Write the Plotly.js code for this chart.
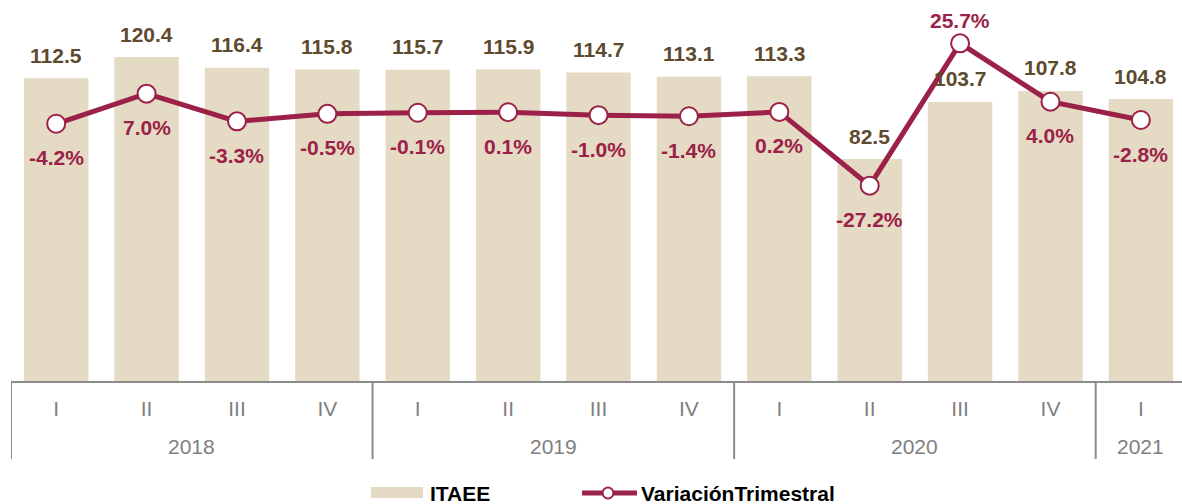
<!DOCTYPE html>
<html><head><meta charset="utf-8">
<script src="https://cdn.plot.ly/plotly-3.0.1.min.js"></script>
<style>html,body{margin:0;padding:0;background:#fff}#chart{width:1182px;height:504px}</style>
</head><body><div id="chart"></div>
<script>
const years = ["2018","2018","2018","2018","2019","2019","2019","2019","2020","2020","2020","2020","2021"];
const quarters = ["I","II","III","IV","I","II","III","IV","I","II","III","IV","I"];
const itaee = [112.5,120.4,116.4,115.8,115.7,115.9,114.7,113.1,113.3,82.5,103.7,107.8,104.8];
const variacion = [-4.2,7.0,-3.3,-0.5,-0.1,0.1,-1.0,-1.4,0.2,-27.2,25.7,4.0,-2.8];
const seriesNames = ["ITAEE","VariaciónTrimestral"];

const FONT = "Arial, 'Liberation Sans', sans-serif";
const BAR_COLOR = "#E5DAC4";
const LINE_COLOR = "#9B2148";
const BAR_TEXT = "#5E4A2E";
const GRAY = "#8C8C8C";
const TICK_GRAY = "#7F7F7F";

// plot geometry in pixels (for legend / label placement)
const ML = 11, MT = 0, W = 1171, H = 381;
const px = x => (x - ML) / W;
const py = y => (MT + H - y) / H;

const idx = quarters.map((_, i) => i);

const bars = {
  type: "bar", x: idx, y: itaee, name: seriesNames[0],
  marker: {color: BAR_COLOR}, width: 0.713, hoverinfo: "y", showlegend: false
};
const line = {
  type: "scatter", mode: "lines+markers", x: idx, y: variacion, yaxis: "y2",
  name: seriesNames[1], line: {color: LINE_COLOR, width: 5},
  marker: {size: 18, color: "#ffffff", line: {color: LINE_COLOR, width: 2}},
  cliponaxis: false, showlegend: false
};

const annotations = [];
const shapes = [];
const maxIdx = variacion.indexOf(Math.max(...variacion));
itaee.forEach((v, i) => annotations.push({
  x: i, y: v, xref: "x", yref: "y", text: v.toFixed(1), showarrow: false,
  yanchor: "middle", yshift: 23, font: {family: FONT, size: 21, color: BAR_TEXT, weight: "bold"}
}));
variacion.forEach((v, i) => annotations.push({
  x: i, y: v, xref: "x", yref: "y2", text: v.toFixed(1) + "%", showarrow: false,
  yanchor: "middle", yshift: i === maxIdx ? 23 : -34,
  font: {family: FONT, size: 21, color: LINE_COLOR, weight: "bold"}
}));

// year groups: labels and dividers
const groups = [];
years.forEach((y, i) => {
  if (!groups.length || groups[groups.length - 1].year !== y) groups.push({year: y, start: i, end: i});
  else groups[groups.length - 1].end = i;
});
groups.forEach(g => {
  annotations.push({x: (g.start + g.end) / 2, xref: "x", y: py(446), yref: "paper", yanchor: "middle",
    text: g.year, showarrow: false, font: {family: FONT, size: 21, color: TICK_GRAY}});
  shapes.push({type: "line", xref: "x", yref: "paper", x0: g.start - 0.5, x1: g.start - 0.5,
    y0: py(381), y1: py(459), line: {color: GRAY, width: 2}});
});
const last = groups[groups.length - 1];
shapes.push({type: "line", xref: "x", yref: "paper", x0: last.end + 0.5, x1: last.end + 0.5,
  y0: py(381), y1: py(459), line: {color: GRAY, width: 2}});

// legend
annotations.push({xref: "paper", yref: "paper", x: px(428), y: py(493), xanchor: "left", yanchor: "middle",
  text: "<b>" + seriesNames[0] + "</b>", showarrow: false, font: {family: FONT, size: 21, color: "#000"}});
annotations.push({xref: "paper", yref: "paper", x: px(639), y: py(493), xanchor: "left", yanchor: "middle",
  text: "<b>" + seriesNames[1] + "</b>", showarrow: false, font: {family: FONT, size: 21, color: "#000"}});
shapes.push(
  {type: "rect", xref: "paper", yref: "paper", x0: px(371), x1: px(423), y0: py(498), y1: py(487),
   fillcolor: BAR_COLOR, line: {width: 0}},
  {type: "line", xref: "paper", yref: "paper", x0: px(582), x1: px(637), y0: py(493), y1: py(493),
   line: {color: LINE_COLOR, width: 5}},
  {type: "circle", xref: "paper", yref: "paper", x0: px(602.5), x1: px(613.5), y0: py(498.5), y1: py(487.5),
   fillcolor: "#ffffff", line: {color: LINE_COLOR, width: 2}}
);

const layout = {
  width: 1182, height: 504,
  margin: {l: ML, r: 0, t: MT, b: 504 - H - MT, pad: 0},
  paper_bgcolor: "#fff", plot_bgcolor: "#fff",
  font: {family: FONT},
  showlegend: false,
  xaxis: {
    range: [-0.5, 12.455], showline: true, linecolor: GRAY, linewidth: 2,
    showgrid: false, zeroline: false, ticks: "outside", ticklen: 8, tickcolor: "rgba(0,0,0,0)",
    tickvals: idx, ticktext: quarters,
    tickfont: {family: FONT, size: 21, color: TICK_GRAY}
  },
  yaxis: {range: [0, 141.6], visible: false},
  yaxis2: {range: [-99.8, 41.8], overlaying: "y", visible: false},
  annotations: annotations,
  shapes: shapes
};

Plotly.newPlot("chart", [bars, line], layout, {displayModeBar: false, staticPlot: true});
</script>
</body></html>
